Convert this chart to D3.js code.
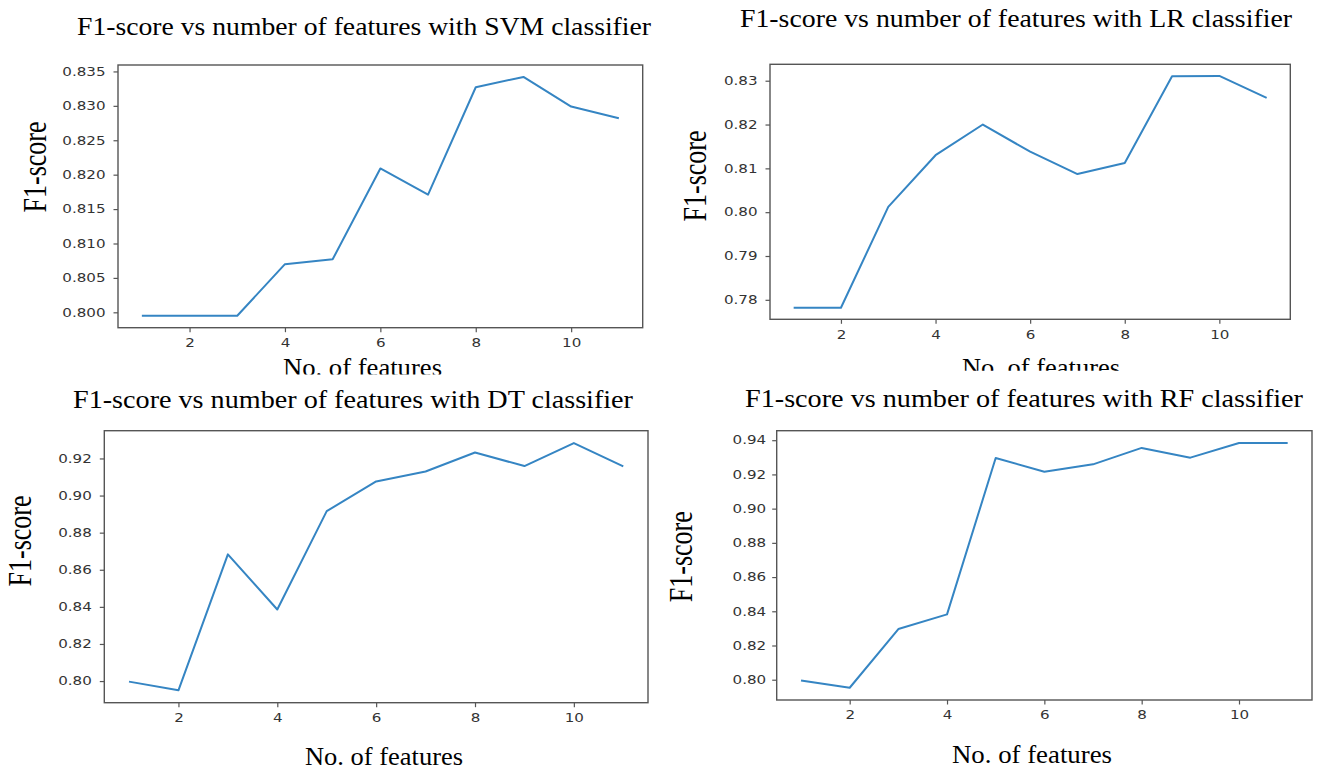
<!DOCTYPE html>
<html>
<head>
<meta charset="utf-8">
<script src="https://cdn.jsdelivr.net/npm/d3@7"></script>
<style>
  html, body { margin: 0; padding: 0; background: #fff; }
  svg { display: block; }
</style>
</head>
<body>
<script>
// ---------------- data ----------------
const features = [1, 2, 3, 4, 5, 6, 7, 8, 9, 10, 11];
const svmF1 = [0.7995, 0.7995, 0.7995, 0.8070, 0.8077, 0.8209, 0.8171, 0.8327, 0.8342, 0.8299, 0.8282];
const lrF1  = [0.7782, 0.7782, 0.8012, 0.8130, 0.8200, 0.8138, 0.8087, 0.8112, 0.8310, 0.8311, 0.8261];
const dtF1  = [0.7997, 0.7950, 0.8683, 0.8386, 0.8916, 0.9076, 0.9130, 0.9232, 0.9159, 0.9283, 0.9157];
const rfF1  = [0.7996, 0.7953, 0.8296, 0.8382, 0.9296, 0.9216, 0.9259, 0.9355, 0.9298, 0.9384, 0.9384];

const xTickValues = [2, 4, 6, 8, 10];
const svmYTicks = [0.800, 0.805, 0.810, 0.815, 0.820, 0.825, 0.830, 0.835];
const lrYTicks  = [0.78, 0.79, 0.80, 0.81, 0.82, 0.83];
const dtYTicks  = [0.80, 0.82, 0.84, 0.86, 0.88, 0.90, 0.92];
const rfYTicks  = [0.80, 0.82, 0.84, 0.86, 0.88, 0.90, 0.92, 0.94];

const titles = [
  "F1-score vs number of features with SVM classifier",
  "F1-score vs number of features with LR classifier",
  "F1-score vs number of features with DT classifier",
  "F1-score vs number of features with RF classifier"
];
const yLabel = "F1-score";
const xLabel = "No. of features";

// ---------------- layout ----------------
const W = 1317, H = 770;
const layout = [
  { values: svmF1, ticks: svmYTicks, fmt: ".3f",
    box: { l: 118, r: 642.7, t: 65, b: 327.7 },
    title: { x0: 77, x1: 651, y: 35 },
    ylab: { x: 46, y: 167 },
    xlab: { x0: 283, x1: 442, y: 375.5, clip: 374.5 } },
  { values: lrF1, ticks: lrYTicks, fmt: ".2f",
    box: { l: 770, r: 1290.3, t: 64.3, b: 319.3 },
    title: { x0: 740, x1: 1292, y: 26.7 },
    ylab: { x: 706, y: 176 },
    xlab: { x0: 962, x1: 1120, y: 375.5, clip: 370.7 } },
  { values: dtF1, ticks: dtYTicks, fmt: ".2f",
    box: { l: 104.3, r: 648, t: 430.7, b: 702.7 },
    title: { x0: 73, x1: 633, y: 408 },
    ylab: { x: 31, y: 541 },
    xlab: { x0: 305, x1: 463, y: 764.5, clip: null } },
  { values: rfF1, ticks: rfYTicks, fmt: ".2f",
    box: { l: 776.7, r: 1312, t: 430.7, b: 700 },
    title: { x0: 745, x1: 1303, y: 406.7 },
    ylab: { x: 691.7, y: 556.7 },
    xlab: { x0: 952, x1: 1112, y: 763, clip: null } }
];

const lineColor = "#3585c3";
const frameColor = "#555";
const tickTextColor = "#333";
const serif = "'Liberation Serif', 'Times New Roman', serif";
const sans = "'DejaVu Sans', sans-serif";
const stretchX = 1.28;

const svg = d3.select("body").append("svg")
  .attr("width", W).attr("height", H)
  .attr("viewBox", `0 0 ${W} ${H}`);
const defs = svg.append("defs");

layout.forEach((p, i) => {
  const b = p.box;
  // matplotlib-style 5% margins on both axes
  const xe = d3.extent(features), xm = (xe[1] - xe[0]) * 0.05;
  const x = d3.scaleLinear().domain([xe[0] - xm, xe[1] + xm]).range([b.l, b.r]);
  const ext = d3.extent(p.values);
  const ym = (ext[1] - ext[0]) * 0.05;
  const y = d3.scaleLinear().domain([ext[0] - ym, ext[1] + ym]).range([b.b, b.t]);

  const g = svg.append("g");

  // line
  g.append("path")
    .datum(features.map((f, k) => [f, p.values[k]]))
    .attr("fill", "none")
    .attr("stroke", lineColor)
    .attr("stroke-width", 2)
    .attr("stroke-linejoin", "round")
    .attr("d", d3.line().x(d => x(d[0])).y(d => y(d[1])));

  // y axis
  const yAxis = g.append("g")
    .attr("transform", `translate(${b.l},0)`)
    .call(d3.axisLeft(y).tickValues(p.ticks).tickFormat(d3.format(p.fmt)).tickSize(4.5).tickPadding(6));
  yAxis.select(".domain").remove();
  yAxis.selectAll(".tick line").attr("stroke", frameColor).attr("stroke-width", 1.2);
  const gapY = (i === 3) ? 10.5 : 12.5;
  yAxis.selectAll(".tick text")
    .attr("x", -gapY / stretchX)
    .attr("transform", `scale(${stretchX},1)`)
    .attr("fill", tickTextColor)
    .style("font-family", sans).style("font-size", "11.8px");

  // x axis
  const xAxis = g.append("g")
    .attr("transform", `translate(0,${b.b})`)
    .call(d3.axisBottom(x).tickValues(xTickValues).tickFormat(d3.format("d")).tickSize(4.5).tickPadding(6.5));
  xAxis.select(".domain").remove();
  xAxis.selectAll(".tick line").attr("stroke", frameColor).attr("stroke-width", 1.2);
  xAxis.selectAll(".tick text")
    .attr("transform", `scale(${stretchX},1)`)
    .attr("fill", tickTextColor)
    .style("font-family", sans).style("font-size", "11.8px");

  // frame
  g.append("rect")
    .attr("x", b.l).attr("y", b.t)
    .attr("width", b.r - b.l).attr("height", b.b - b.t)
    .attr("fill", "none").attr("stroke", frameColor).attr("stroke-width", 1.4);

  // title
  g.append("text")
    .attr("x", p.title.x0).attr("y", p.title.y)
    .attr("textLength", p.title.x1 - p.title.x0)
    .attr("lengthAdjust", "spacingAndGlyphs")
    .style("font-family", serif).style("font-size", "26px")
    .attr("fill", "#000")
    .text(titles[i]);

  // y label
  g.append("text")
    .attr("transform", `translate(${p.ylab.x},${p.ylab.y}) scale(1.26,1) rotate(-90)`)
    .attr("text-anchor", "middle")
    .attr("textLength", 91)
    .attr("lengthAdjust", "spacingAndGlyphs")
    .style("font-family", serif).style("font-size", "26px")
    .attr("fill", "#000")
    .text(yLabel);

  // x label (top panels are cut off in the source image)
  const xl = g.append("text")
    .attr("x", p.xlab.x0).attr("y", p.xlab.y)
    .attr("textLength", p.xlab.x1 - p.xlab.x0)
    .attr("lengthAdjust", "spacingAndGlyphs")
    .style("font-family", serif).style("font-size", "25px")
    .attr("fill", "#000")
    .text(xLabel);
  if (p.xlab.clip !== null) {
    const id = "clip" + i;
    defs.append("clipPath").attr("id", id)
      .append("rect")
      .attr("x", p.xlab.x0 - 10).attr("y", p.xlab.y - 40)
      .attr("width", p.xlab.x1 - p.xlab.x0 + 20)
      .attr("height", p.xlab.clip - (p.xlab.y - 40));
    xl.attr("clip-path", `url(#${id})`);
  }
});
</script>
</body>
</html>
